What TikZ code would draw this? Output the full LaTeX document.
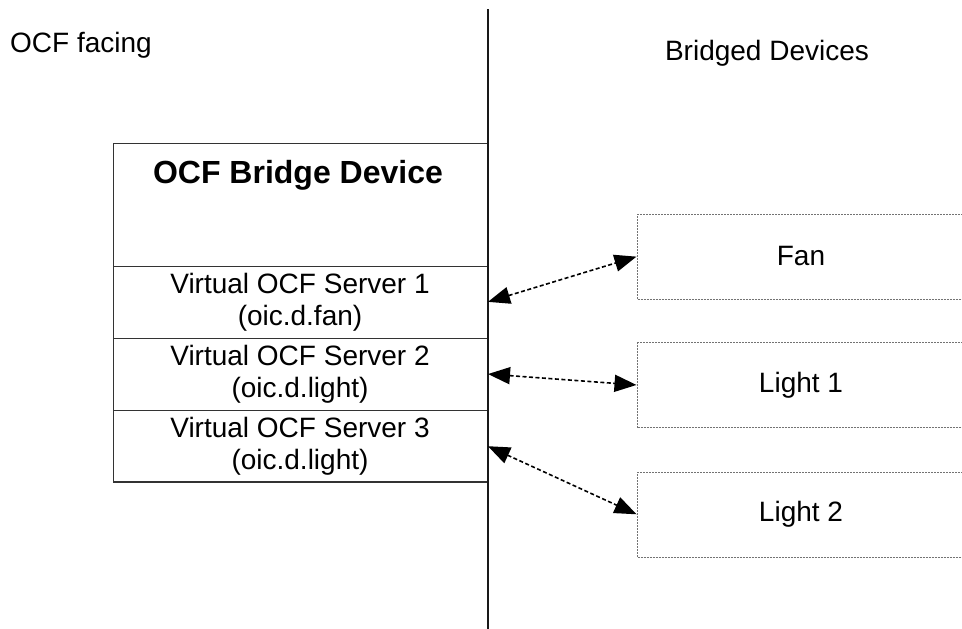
\documentclass[tikz,border=0pt]{standalone}
\usepackage{fontspec}
\setmainfont{Liberation Sans}
\usetikzlibrary{arrows.meta}
\begin{document}
\begin{tikzpicture}[x=1pt,y=-1pt,
  txt/.style={font=\fontsize{28}{32}\selectfont, text=black},
  rowbox/.style={draw=black!80, line width=1pt, minimum width=374pt, minimum height=72pt, inner sep=0pt, align=center, txt},
  devbox/.style={draw=black!55, line width=1pt, dash pattern=on 2pt off 1pt, minimum width=327pt, minimum height=85pt, inner sep=0pt, txt},
  arr/.style={line width=1.6pt, dash pattern=on 4pt off 2.5pt, {Triangle[length=22pt,width=17pt]}-{Triangle[length=22pt,width=17pt]}, shorten <=0.5pt, shorten >=0.5pt}
]
\useasboundingbox (0,0) rectangle (962,629);
% outer bridge box
\node[draw=black!80, line width=1pt, minimum width=374pt, minimum height=338pt, inner sep=0pt] (bridge) at (300,312) {};
\node[font=\fontsize{32}{36}\selectfont\bfseries, anchor=base] (title) at (298,183) {OCF Bridge Device};
\node[rowbox] (s1) at (300,302) {Virtual OCF Server 1\\(oic.d.fan)};
\node[rowbox] (s2) at (300,374) {Virtual OCF Server 2\\(oic.d.light)};
\node[rowbox] (s3) at (300,446) {Virtual OCF Server 3\\(oic.d.light)};
% divider line
\coordinate (ltop) at (487.5,9);
\coordinate (lbot) at (487.5,629);
\draw[line width=2pt, black!90] (ltop) -- (lbot);
% headings
\node[txt, anchor=base west, inner sep=0pt] (ocf) at (10,52) {OCF facing};
\node[txt, anchor=base, inner sep=0pt] (bd) at (767,60) {Bridged Devices};
% devices
\node[devbox] (fan) at (801,256.5) {Fan};
\node[devbox] (l1) at (801,385) {Light 1};
\node[devbox] (l2) at (801,514.5) {Light 2};
% arrows
\draw[arr] (s1.east) -- (fan.west);
\draw[arr] (s2.east) -- (l1.west);
\draw[arr] (s3.east) -- (l2.west);
\end{tikzpicture}
\end{document}
